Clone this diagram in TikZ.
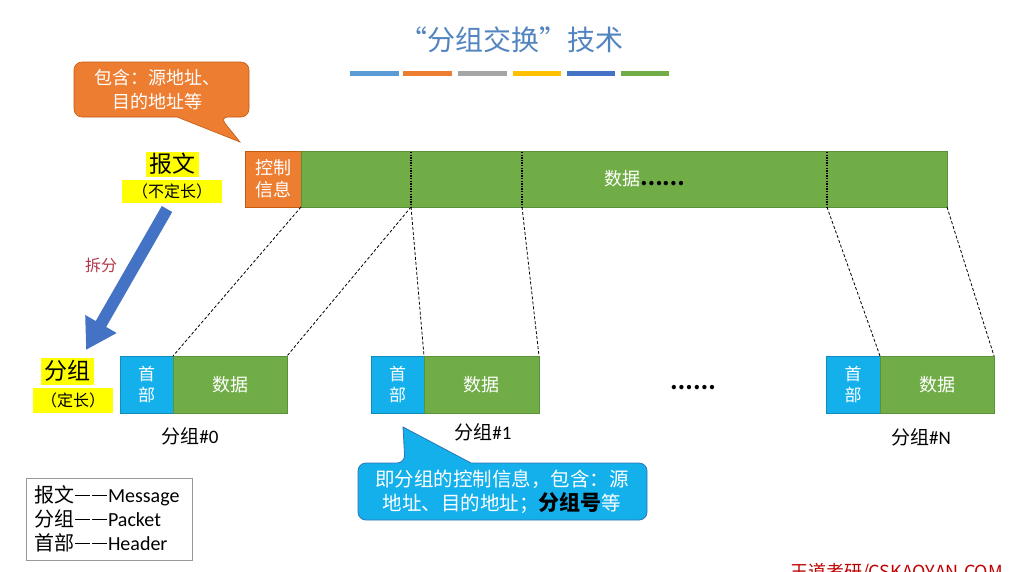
\documentclass[tikz,border=0pt]{standalone}
\usepackage{fontspec}
\setmainfont{Carlito}
\newfontfamily\cjk{Noto Sans CJK SC}
\usetikzlibrary{arrows.meta}
\definecolor{ttl}{HTML}{5285BF}
\definecolor{org}{HTML}{ED7D31}
\definecolor{orgd}{HTML}{C55A11}
\definecolor{grn}{HTML}{70AD47}
\definecolor{grnd}{HTML}{5B9138}
\definecolor{cyn}{HTML}{14B0EC}
\definecolor{cynd}{HTML}{2E75B6}
\definecolor{arrb}{HTML}{4472C4}
\definecolor{splt}{HTML}{B5384B}
\definecolor{hl}{HTML}{FFFF00}
\definecolor{ft}{HTML}{C00000}
\definecolor{swA}{HTML}{5B9BD5}
\definecolor{swB}{HTML}{ED7D31}
\definecolor{swC}{HTML}{A5A5A5}
\definecolor{swD}{HTML}{FFC000}
\definecolor{swE}{HTML}{4472C4}
\definecolor{swF}{HTML}{70AD47}
\newcommand{\ldash}{\hspace{1pt}\rule[0.33em]{15pt}{1.1pt}\hspace{2pt}\rule[0.33em]{15pt}{1.1pt}\hspace{1pt}}
\tikzset{
  every node/.style={inner sep=0pt, outer sep=0pt},
  ctrlbox/.style={fill=org, draw=orgd, line width=0.6pt, text=white, align=center, font=\cjk\fontsize{18}{22}\selectfont},
  databox/.style={fill=grn, draw=grnd, line width=0.8pt, text=white, align=center, font=\cjk\fontsize{18}{22}\selectfont},
  headbox/.style={fill=cyn, draw=cyn!80!black, line width=0.5pt, text=white, align=center, font=\cjk\fontsize{17}{21}\selectfont},
  hlbox/.style={fill=hl, text=black},
  cutline/.style={black, line width=0.8pt, dash pattern=on 3pt off 2pt},
  dotline/.style={black, line width=1.3pt, dash pattern=on 1.3pt off 1.3pt},
  plabel/.style={font=\fontsize{19}{22}\selectfont, text=black},
  swatch/.style={line width=5pt},
}
\begin{document}
\begin{tikzpicture}[x=1pt, y=-1pt]
\useasboundingbox (0,0) rectangle (1024,571);
\fill[white] (0,0) rectangle (1024,571);

% title
\node[text=ttl, font=\cjk\fontsize{28}{32}\selectfont] (title) at (511,40) {“分组交换”技术};
\draw[swatch, swA] (350,73) -- (399,73);
\draw[swatch, swB] (403,73) -- (452,73);
\draw[swatch, swC] (458,73) -- (507,73);
\draw[swatch, swD] (513,73) -- (561,73);
\draw[swatch, swE] (567,73) -- (615,73);
\draw[swatch, swF] (621,73) -- (669,73);

% top callout
\draw[fill=org, draw=orgd, line width=0.6pt, rounded corners=8pt]
  (177,117) -- (74,117) -- (74,62) -- (249,62) -- (249,117) -- (220,117) [sharp corners] -- (240,142) -- cycle;
\node[text=white, align=center, font=\cjk\fontsize{18}{24}\selectfont] (callA) at (157,90) {包含：源地址、\\目的地址等};

% message bar
\node[ctrlbox, minimum width=56pt, minimum height=56pt] (ctrl) at (273,179) {控制\\信息};
\node[databox, minimum width=646pt, minimum height=56pt] (bar) at (624,179) {};
\node[text=white, font=\cjk\fontsize{18}{22}\selectfont, anchor=west] (bartxt) at (604,179) {数据\textcolor{black}{\bfseries\fontsize{20}{22}\selectfont ……}};
\coordinate (c1t) at (411,152);
\coordinate (c1) at (411,207);
\coordinate (c2t) at (522,152);
\coordinate (c2) at (522,207);
\coordinate (c3t) at (827,152);
\coordinate (c3) at (827,207);
\draw[dotline] (c1t) -- (c1);
\draw[dotline] (c2t) -- (c2);
\draw[dotline] (c3t) -- (c3);

% labels left
\node[hlbox, minimum width=53pt, minimum height=25pt, font=\cjk\fontsize{23}{26}\selectfont] (msg) at (172,164) {报文};
\node[hlbox, minimum width=100pt, minimum height=23pt, font=\cjk\fontsize{16}{20}\selectfont] (msgl) at (172,191.5) {（不定长）};
\node[hlbox, minimum width=53pt, minimum height=27pt, font=\cjk\fontsize{23}{26}\selectfont] (pkt) at (67,371) {分组};
\node[hlbox, minimum width=80pt, minimum height=25pt, font=\cjk\fontsize{16}{20}\selectfont] (pktl) at (73,400.5) {（定长）};

% split arrow
\coordinate (arrS) at (167,209);
\coordinate (arrE) at (86,350);
\draw[arrb, line width=12pt, -{Triangle[length=30pt, width=34pt]}] (arrS) -- (arrE);
\node[text=splt, font=\cjk\fontsize{16}{20}\selectfont] (split) at (101,265) {拆分};

% packets
\node[headbox, minimum width=53pt, minimum height=57pt] (p0h) at (146.5,384.5) {首\\部};
\node[databox, minimum width=114pt, minimum height=57pt] (p0d) at (230,384.5) {数据};
\node[headbox, minimum width=53pt, minimum height=57pt] (p1h) at (397.5,384.5) {首\\部};
\node[databox, minimum width=115pt, minimum height=57pt] (p1d) at (481.5,384.5) {数据};
\node[headbox, minimum width=54pt, minimum height=57pt] (pNh) at (853,384.5) {首\\部};
\node[databox, minimum width=114pt, minimum height=57pt] (pNd) at (937,384.5) {数据};

\node[plabel] (l0) at (190,436) {{\cjk 分组}\#0};
\node[plabel] (l1) at (483,432) {{\cjk 分组}\#1};
\node[plabel] (lN) at (921,437) {{\cjk 分组}\#N};
\node[font=\cjk\bfseries\fontsize{20}{22}\selectfont] (dots) at (693,388) {……};

% cut lines
\draw[cutline] (bar.south west) -- (p0d.north west);
\draw[cutline] (c1) -- (p0d.north east);
\draw[cutline] (c1) -- (p1d.north west);
\draw[cutline] (c2) -- (p1d.north east);
\draw[cutline] (c3) -- (pNd.north west);
\draw[cutline] (bar.south east) -- (pNd.north east);

% bottom callout
\draw[fill=cyn, draw=cynd, line width=0.8pt, rounded corners=8pt]
  (471,463) -- (647,463) -- (647,520) -- (358,520) -- (358,463) -- (405,463) [sharp corners] -- (403,427) -- cycle;
\node[text=white, align=center, font=\cjk\fontsize{19.5}{24}\selectfont] (callB) at (502,492)
  {即分组的控制信息，包含：源\\地址、目的地址；{\bfseries\color{black}\fontsize{21}{24}\selectfont 分组号}等};

% legend
\node[draw=gray!80, line width=0.8pt, minimum width=166pt, minimum height=82pt] (legbox) at (109,519) {};
\node[anchor=west, align=left, font=\fontsize{20}{24}\selectfont] (legtxt) at (34,519)
  {{\cjk 报文}\ldash Message\\{\cjk 分组}\ldash Packet\\{\cjk 首部}\ldash Header};

% footer
\node[anchor=north west, text=ft, font=\cjk\fontsize{18}{20}\selectfont] (footer) at (790,563) {王道考研/CSKAOYAN.COM};
\end{tikzpicture}
\end{document}
